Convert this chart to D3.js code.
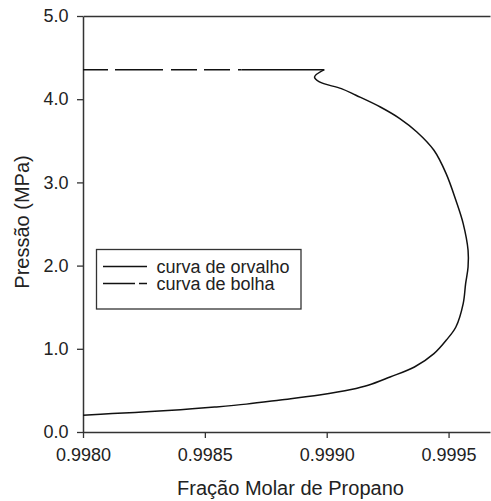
<!DOCTYPE html>
<html>
<head>
<meta charset="utf-8">
<script src="https://cdn.jsdelivr.net/npm/d3@7/dist/d3.min.js"></script>
<style>
  html, body { margin: 0; padding: 0; background: #fff; }
  svg { display: block; font-family: "Liberation Sans", Arial, sans-serif; }
</style>
</head>
<body>
<svg id="chart" width="491" height="501"></svg>
<script>
// ---- data ----
const xTicks = [0.9980, 0.9985, 0.9990, 0.9995];
const yTicks = [0.0, 1.0, 2.0, 3.0, 4.0, 5.0];

const dewX = [0.99800, 0.99812, 0.99826, 0.99840, 0.99854, 0.99867, 0.99881, 0.99897,
              0.99910, 0.99917, 0.99926, 0.99936, 0.99944, 0.99949, 0.99953, 0.99956,
              0.99957, 0.99958, 0.99958, 0.99956, 0.99953, 0.99949, 0.99944, 0.99937,
              0.99930, 0.99922, 0.99912, 0.99906, 0.99897, 0.99895, 0.99899, 0.99865];
const dewP = [0.200, 0.221, 0.242, 0.268, 0.300, 0.335, 0.385, 0.445,
              0.510, 0.561, 0.661, 0.781, 0.942, 1.102, 1.262, 1.543,
              1.784, 1.983, 2.184, 2.505, 2.785, 3.106, 3.386, 3.606,
              3.767, 3.906, 4.047, 4.127, 4.207, 4.267, 4.355, 4.355];

const bubbleX = [0.99800, 0.99865];
const bubbleP = [4.355, 4.355];

const legendLabels = ["curva de orvalho", "curva de bolha"];

(function () {
// ---- layout ----
const svg = d3.select("#chart");
const mLeft = 83, mRight = 490, mTop = 16, mBottom = 432;
const axisColor = "#333";
const textColor = "#222";

const x = d3.scaleLinear().domain([0.998, 0.99967]).range([mLeft, mRight]);
const y = d3.scaleLinear().domain([0, 5]).range([mBottom, mTop]);

// axes
const xAxis = svg.append("g")
  .attr("transform", `translate(0,${mBottom})`)
  .call(d3.axisBottom(x).tickValues(xTicks).tickFormat(d3.format(".4f"))
        .tickSize(6).tickSizeOuter(0).tickPadding(10.5));
const yAxis = svg.append("g")
  .attr("transform", `translate(${mLeft},0)`)
  .call(d3.axisLeft(y).tickValues(yTicks).tickFormat(d3.format(".1f"))
        .tickSize(6).tickSizeOuter(0).tickPadding(8.5));
const topAxis = svg.append("g")
  .attr("transform", `translate(0,${mTop})`)
  .call(d3.axisTop(x).tickValues([]).tickSizeOuter(0));

[xAxis, yAxis, topAxis].forEach(g => {
  g.selectAll("path.domain").attr("stroke", axisColor).attr("stroke-width", 1.5);
  g.selectAll(".tick line").attr("stroke", axisColor).attr("stroke-width", 1.3);
  g.selectAll(".tick text").attr("fill", textColor)
    .style("font-size", "18px").style("font-family", '"Liberation Sans", Arial, sans-serif');
});

// curves
const dewData = dewX.map((v, i) => [v, dewP[i]]);
const bubbleData = bubbleX.map((v, i) => [v, bubbleP[i]]);

const smooth = d3.line().x(d => x(d[0])).y(d => y(d[1])).curve(d3.curveCatmullRom.alpha(0.5));
const straight = d3.line().x(d => x(d[0])).y(d => y(d[1]));

svg.append("path").datum(bubbleData)
  .attr("d", straight)
  .attr("fill", "none").attr("stroke", "#111").attr("stroke-width", 1.5)
  .attr("stroke-dasharray", "25,7,48,8,26,7,26,8");

// dew curve: smooth body up to the cusp, straight along the top plateau
const n = dewData.length;
svg.append("path").datum(dewData.slice(0, n - 1))
  .attr("d", smooth)
  .attr("fill", "none").attr("stroke", "#111").attr("stroke-width", 1.5)
  .attr("stroke-linejoin", "miter");
svg.append("path").datum(dewData.slice(n - 2))
  .attr("d", straight)
  .attr("fill", "none").attr("stroke", "#111").attr("stroke-width", 1.5);

// legend
const lg = svg.append("g");
lg.append("rect").attr("x", 96.5).attr("y", 249.5).attr("width", 204.5).attr("height", 59.5)
  .attr("fill", "#fff").attr("stroke", axisColor).attr("stroke-width", 1.3);
lg.append("line").attr("x1", 103).attr("x2", 147).attr("y1", 266.5).attr("y2", 266.5)
  .attr("stroke", "#111").attr("stroke-width", 1.3);
lg.append("line").attr("x1", 103).attr("x2", 147).attr("y1", 283.5).attr("y2", 283.5)
  .attr("stroke", "#111").attr("stroke-width", 1.3).attr("stroke-dasharray", "32,4,8");
lg.selectAll("text.lab").data(legendLabels).enter().append("text")
  .attr("class", "lab")
  .attr("x", 156.5).attr("y", (d, i) => 273 + i * 17)
  .attr("fill", textColor).style("font-size", "18px")
  .text(d => d);

// axis titles
svg.append("text").attr("x", (mLeft + mRight) / 2 + 4).attr("y", 495)
  .attr("text-anchor", "middle").attr("fill", textColor).style("font-size", "20px")
  .text("Fração Molar de Propano");
svg.append("text")
  .attr("transform", `translate(29,${(mTop + mBottom) / 2 - 2}) rotate(-90)`)
  .attr("text-anchor", "middle").attr("fill", textColor).style("font-size", "20px")
  .text("Pressão (MPa)");
})();
</script>
</body>
</html>
